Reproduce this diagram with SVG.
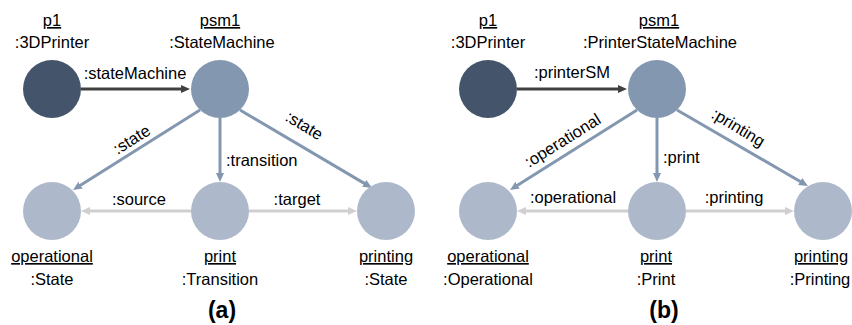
<svg xmlns="http://www.w3.org/2000/svg" width="852" height="325" viewBox="0 0 852 325">
  <style>
    text { font-family: "Liberation Sans", Arial, sans-serif; font-size: 16.5px; fill: #000; }
    .mid { text-anchor: middle; }
    .name { text-decoration: underline; }
    .cap { font-weight: bold; font-size: 23px; text-anchor: middle; }
    .dark { fill: #44546a; }
    .main { fill: #8497b0; }
    .part { fill: #adb9ca; }
    .e-dark { stroke: #404040; stroke-width: 3; fill: none; marker-end: url(#ah-dark); }
    .e-blue { stroke: #8497b0; stroke-width: 3; fill: none; marker-end: url(#ah-blue); }
    .e-light { stroke: #d0d0d0; stroke-width: 3; fill: none; marker-end: url(#ah-light); }
  </style>
  <defs>
    <marker id="ah-dark" markerUnits="userSpaceOnUse" markerWidth="10" markerHeight="9" refX="2" refY="4" orient="auto">
      <path d="M0,0 L9,4 L0,8 z" fill="#404040"/>
    </marker>
    <marker id="ah-blue" markerUnits="userSpaceOnUse" markerWidth="10" markerHeight="9" refX="2" refY="4" orient="auto">
      <path d="M0,0 L9,4 L0,8 z" fill="#8497b0"/>
    </marker>
    <marker id="ah-light" markerUnits="userSpaceOnUse" markerWidth="10" markerHeight="9" refX="2" refY="4" orient="auto">
      <path d="M0,0 L9,4 L0,8 z" fill="#d0d0d0"/>
    </marker>
  </defs>

  <!-- connectors -->
  <g id="connectors">
    <!-- panel (a) -->
    <line class="e-dark" x1="81" y1="89" x2="183" y2="89"/>
    <text x="135" y="79" class="mid">:stateMachine</text>
    <line class="e-blue" x1="200" y1="110" x2="78.9" y2="186.3"/>
    <text class="mid" transform="translate(132,140) rotate(-32)" y="5">:state</text>
    <line class="e-blue" x1="220" y1="118" x2="220" y2="175"/>
    <text x="226" y="166">:transition</text>
    <line class="e-blue" x1="240" y1="110" x2="366" y2="184.4"/>
    <text class="mid" transform="translate(304,126) rotate(31)" y="5">:state</text>
    <line class="e-light" x1="191" y1="211" x2="88" y2="211"/>
    <text x="139" y="205" class="mid">:source</text>
    <line class="e-light" x1="249" y1="211" x2="350" y2="211"/>
    <text x="297" y="205" class="mid">:target</text>

    <!-- panel (b) -->
    <line class="e-dark" x1="517" y1="89" x2="620" y2="89"/>
    <text x="572" y="78" class="mid">:printerSM</text>
    <line class="e-blue" x1="637" y1="110" x2="515.9" y2="186.3"/>
    <text class="mid" transform="translate(563,141) rotate(-32)" y="5">:operational</text>
    <line class="e-blue" x1="657" y1="118" x2="657" y2="175"/>
    <text x="663" y="163">:print</text>
    <line class="e-blue" x1="677" y1="110" x2="801.9" y2="182.5"/>
    <text class="mid" transform="translate(738,128) rotate(31)" y="5">:printing</text>
    <line class="e-light" x1="628" y1="211" x2="524" y2="211"/>
    <text x="573" y="203" class="mid">:operational</text>
    <line class="e-light" x1="686" y1="211" x2="787" y2="211"/>
    <text x="734" y="203" class="mid">:printing</text>
  </g>

  <!-- panel (a) nodes -->
  <g id="a-p1">
    <text x="52" y="26" class="mid name">p1</text>
    <text x="52" y="48" class="mid">:3DPrinter</text>
    <circle cx="52" cy="89" r="29" class="dark"/>
  </g>
  <g id="a-psm1">
    <text x="220" y="26" class="mid name">psm1</text>
    <text x="222" y="48" class="mid">:StateMachine</text>
    <circle cx="220" cy="89" r="29" class="main"/>
  </g>
  <g id="a-operational">
    <circle cx="52" cy="211" r="29" class="part"/>
    <text x="52" y="262" class="mid name">operational</text>
    <text x="52" y="285" class="mid">:State</text>
  </g>
  <g id="a-print">
    <circle cx="220" cy="211" r="29" class="part"/>
    <text x="220" y="262" class="mid name">print</text>
    <text x="220" y="285" class="mid">:Transition</text>
  </g>
  <g id="a-printing">
    <circle cx="386" cy="211" r="29" class="part"/>
    <text x="386" y="262" class="mid name">printing</text>
    <text x="386" y="285" class="mid">:State</text>
  </g>
  <text x="222" y="318" class="cap">(a)</text>

  <!-- panel (b) nodes -->
  <g id="b-p1">
    <text x="488" y="26" class="mid name">p1</text>
    <text x="488" y="48" class="mid">:3DPrinter</text>
    <circle cx="488" cy="89" r="29" class="dark"/>
  </g>
  <g id="b-psm1">
    <text x="659" y="26" class="mid name">psm1</text>
    <text x="660" y="48" class="mid">:PrinterStateMachine</text>
    <circle cx="657" cy="89" r="29" class="main"/>
  </g>
  <g id="b-operational">
    <circle cx="488" cy="211" r="29" class="part"/>
    <text x="488" y="262" class="mid name">operational</text>
    <text x="488" y="285" class="mid">:Operational</text>
  </g>
  <g id="b-print">
    <circle cx="657" cy="211" r="29" class="part"/>
    <text x="656" y="262" class="mid name">print</text>
    <text x="656" y="285" class="mid">:Print</text>
  </g>
  <g id="b-printing">
    <circle cx="823" cy="211" r="29" class="part"/>
    <text x="821" y="262" class="mid name">printing</text>
    <text x="820" y="285" class="mid">:Printing</text>
  </g>
  <text x="664" y="318" class="cap">(b)</text>
</svg>
